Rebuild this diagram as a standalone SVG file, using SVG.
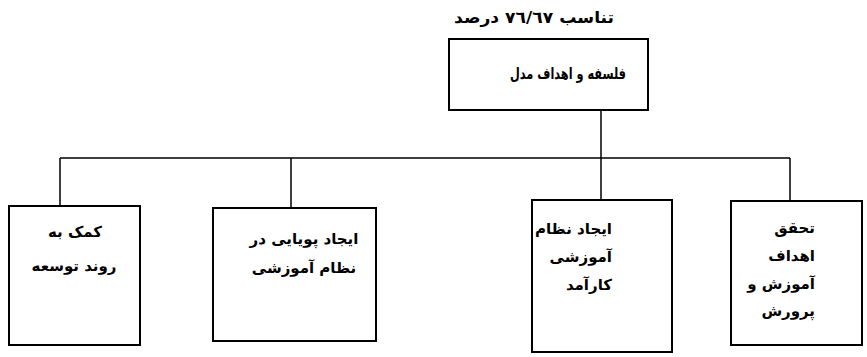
<svg xmlns="http://www.w3.org/2000/svg" width="867" height="357" viewBox="0 0 867 357">
<style>
.box{fill:#fff;stroke:#000;stroke-width:2}
.ln{fill:none;stroke:#000;stroke-width:1.5}
.t{font-family:"DejaVu Sans",sans-serif;font-weight:bold;font-size:15px;fill:#000}
.big{font-size:16px}
.c{text-anchor:middle}
.r{direction:rtl;text-anchor:start}
</style>
<rect width="867" height="357" fill="#fff"/>
<text id="title" class="t big c" x="534" y="23" textLength="160" lengthAdjust="spacingAndGlyphs">تناسب ٧٦/٦٧ درصد</text>
<g id="connectors">
<path class="ln" d="M601 110V158M60 158H790M60 158V206M291 158V208M601 158V200M790 158V201"/>
</g>
<g id="root">
<rect class="box" x="449" y="39" width="199" height="71"/>
<text class="t big c" x="568" y="79" textLength="116" lengthAdjust="spacingAndGlyphs">فلسفه و اهداف مدل</text>
</g>
<g id="n1">
<rect class="box" x="9" y="206" width="131" height="139"/>
<text class="t c" x="75" y="237">کمک به</text>
<text class="t c" x="74" y="271">روند توسعه</text>
</g>
<g id="n2">
<rect class="box" x="213" y="208" width="163" height="133"/>
<text class="t c" x="304" y="244">ایجاد پویایی در</text>
<text class="t c" x="304" y="273">نظام آموزشی</text>
</g>
<g id="n3">
<rect class="box" x="532" y="200" width="140" height="152"/>
<text class="t r" x="612" y="234">ایجاد نظام</text>
<text class="t r" x="612" y="262">آموزشی</text>
<text class="t r" x="612" y="290">کارآمد</text>
</g>
<g id="n4">
<rect class="box" x="731" y="201" width="131" height="144"/>
<text class="t r" x="815" y="233">تحقق</text>
<text class="t r" x="815" y="261">اهداف</text>
<text class="t r" x="815" y="289">آموزش و</text>
<text class="t r" x="815" y="316">پرورش</text>
</g>
</svg>
